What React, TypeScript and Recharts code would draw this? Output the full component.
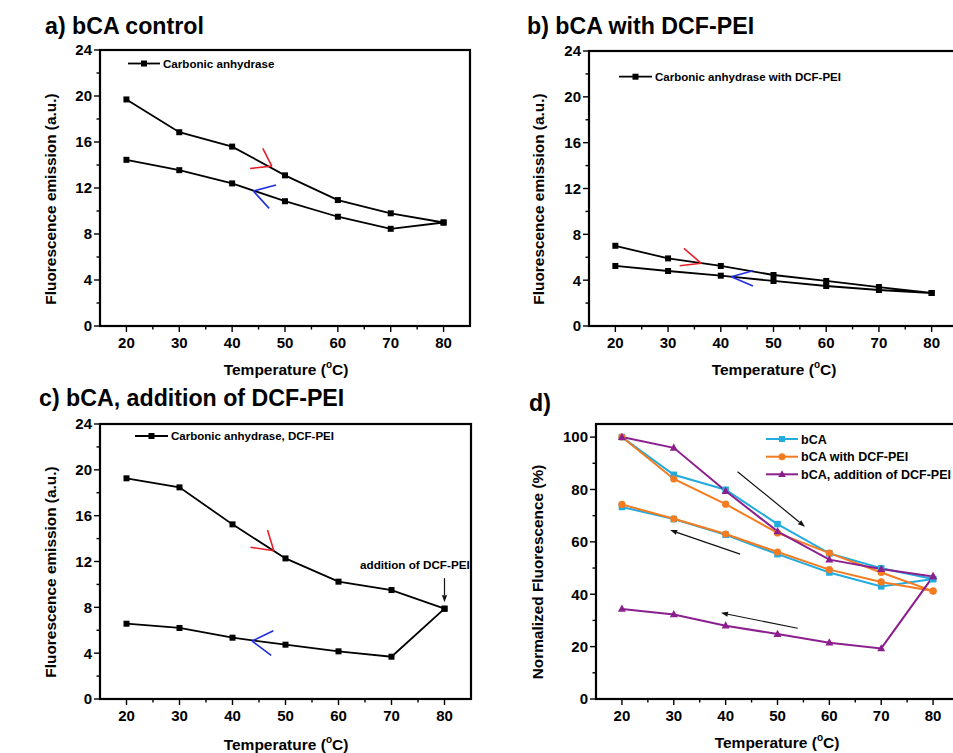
import React from 'react';
import { LineChart, Line, XAxis, YAxis, ReferenceLine } from 'recharts';

const FONT = '"Liberation Sans", Arial, Helvetica, sans-serif';

// ---------- data ----------
const temps = [20, 30, 40, 50, 60, 70, 80];
const xTicks = [20, 25, 30, 35, 40, 45, 50, 55, 60, 65, 70, 75, 80];
const emissionTicks = [0, 2, 4, 6, 8, 10, 12, 14, 16, 18, 20, 22, 24];
const percentTicks = [0, 10, 20, 30, 40, 50, 60, 70, 80, 90, 100];

// a) bCA control
const aHeating = [19.7, 16.85, 15.6, 13.1, 10.95, 9.8, 9.0];
const aCooling = [14.45, 13.55, 12.4, 10.85, 9.5, 8.45, 9.0];
// b) bCA with DCF-PEI
const bHeating = [7.0, 5.9, 5.24, 4.45, 3.93, 3.4, 2.88];
const bCooling = [5.24, 4.8, 4.39, 3.93, 3.49, 3.14, 2.88];
// c) bCA, addition of DCF-PEI
const cHeating = [19.26, 18.47, 15.24, 12.27, 10.24, 9.51, 7.88];
const cCooling = [6.57, 6.2, 5.35, 4.74, 4.16, 3.69, 7.88];
// d) normalized fluorescence (%)
const dBcaHeating = [100, 85.6, 79.9, 66.8, 55.6, 49.9, 45.8];
const dBcaCooling = [73.3, 68.7, 62.7, 55.3, 48.3, 43.0, 45.8];
const dDcfHeating = [100, 84.0, 74.4, 63.4, 55.7, 48.3, 41.2];
const dDcfCooling = [74.3, 68.8, 63.0, 56.1, 49.4, 44.7, 41.2];
const dAddHeating = [100, 95.9, 79.4, 64.0, 53.2, 49.6, 46.8];
const dAddCooling = [34.4, 32.3, 28.0, 24.8, 21.5, 19.3, 46.8];

const legendA = 'Carbonic anhydrase';
const legendB = 'Carbonic anhydrase with DCF-PEI';
const legendC = 'Carbonic anhydrase, DCF-PEI';
const legendD = ['bCA', 'bCA with DCF-PEI', 'bCA, addition of DCF-PEI'];

const CYAN = '#23ABDD';
const ORANGE = '#F47B20';
const PURPLE = '#8B1F8E';

function loop(heating: number[], cooling: number[]) {
  const up = temps.map((t, i) => ({ t, v: heating[i] }));
  const down = temps.map((t, i) => ({ t, v: cooling[i] })).reverse();
  return [...up, ...down];
}

// ---------- ticks ----------
const XTick = (props: any) => {
  const { x, y, payload } = props;
  const v = payload.value;
  const major = v % 10 === 0;
  return (
    <g>
      <line x1={x} y1={y} x2={x} y2={y + (major ? 6 : 3.5)} stroke="#000" strokeWidth={1.4} />
      {major && (
        <text x={x} y={y + 21.5} textAnchor="middle" fontSize={15} fontWeight="bold" fontFamily={FONT} fill="#000">
          {v}
        </text>
      )}
    </g>
  );
};

const makeYTick = (step: number) => (props: any) => {
  const { x, y, payload } = props;
  const v = payload.value;
  const major = v % step === 0;
  return (
    <g>
      <line x1={x} y1={y} x2={x - (major ? 6 : 3.5)} y2={y} stroke="#000" strokeWidth={1.4} />
      {major && (
        <text x={x - 8} y={y} dy="0.36em" textAnchor="end" fontSize={15} fontWeight="bold" fontFamily={FONT} fill="#000">
          {v}
        </text>
      )}
    </g>
  );
};

// ---------- markers ----------
const squareDot = (color: string, size: number) => (p: any) => {
  const { cx, cy } = p;
  if (cx == null || cy == null) return <g />;
  return <rect x={cx - size / 2} y={cy - size / 2} width={size} height={size} fill={color} stroke="none" />;
};
const circleDot = (color: string, r: number) => (p: any) => {
  const { cx, cy } = p;
  if (cx == null || cy == null) return <g />;
  return <circle cx={cx} cy={cy} r={r} fill={color} stroke="none" />;
};
const triDot = (color: string, s: number) => (p: any) => {
  const { cx, cy } = p;
  if (cx == null || cy == null) return <g />;
  const h = s * 0.9;
  return <polygon points={`${cx},${cy - h * 0.6} ${cx - s / 2},${cy + h * 0.4} ${cx + s / 2},${cy + h * 0.4}`} fill={color} stroke="none" />;
};

// ---------- arrows ----------
const ArrowShape = (p: any) => {
  const { x1, y1, x2, y2 } = p;
  const ang = Math.atan2(y2 - y1, x2 - x1);
  const L = 7;
  const W = 2.6;
  const c = Math.cos(ang);
  const s = Math.sin(ang);
  const bx = x2 - L * c;
  const by = y2 - L * s;
  return (
    <g>
      <line x1={x1} y1={y1} x2={bx} y2={by} stroke="#111" strokeWidth={1.2} />
      <polygon points={`${x2},${y2} ${bx + W * s},${by - W * c} ${bx - W * s},${by + W * c}`} fill="#111" />
    </g>
  );
};

const chevron = (apex: [number, number], e1: [number, number], e2: [number, number], color: string, key: string) => [
  <ReferenceLine
    key={key + '1'}
    segment={[{ x: apex[0], y: apex[1] }, { x: e1[0], y: e1[1] }]}
    stroke={color}
    strokeWidth={1.6}
    ifOverflow="visible"
  />,
  <ReferenceLine
    key={key + '2'}
    segment={[{ x: apex[0], y: apex[1] }, { x: e2[0], y: e2[1] }]}
    stroke={color}
    strokeWidth={1.6}
    ifOverflow="visible"
  />,
];

// ---------- panel builder ----------
type PanelProps = {
  left: number;
  top: number;
  width: number;
  height: number;
  margin: { top: number; right: number; bottom: number; left: number };
  yWidth: number;
  yMax: number;
  yTicks: number[];
  yStep: number;
  children: React.ReactNode;
};

const frameLine = { stroke: '#000', strokeWidth: 1.5 };

const Panel = ({ left, top, width, height, margin, yWidth, yMax, yTicks, yStep, children }: PanelProps) => (
  <div style={{ position: 'absolute', left, top }}>
    <LineChart width={width} height={height} margin={margin}>
      <XAxis
        type="number"
        dataKey="t"
        domain={[15, 85]}
        ticks={xTicks}
        interval={0}
        tickSize={0}
        tickMargin={0}
        tickLine={false}
        tick={XTick}
        axisLine={frameLine}
        height={30}
        allowDataOverflow
      />
      <YAxis
        type="number"
        dataKey="v"
        domain={[0, yMax]}
        ticks={yTicks}
        interval={0}
        tickSize={0}
        tickMargin={0}
        tickLine={false}
        tick={makeYTick(yStep)}
        axisLine={frameLine}
        width={yWidth}
        allowDataOverflow
      />
      {children}
    </LineChart>
  </div>
);

const blackLine = (data: { t: number; v: number }[], name: string) => (
  <Line
    key={name}
    data={data}
    dataKey="v"
    name={name}
    type="linear"
    stroke="#000"
    strokeWidth={1.8}
    dot={squareDot('#000', 6)}
    activeDot={false}
    isAnimationActive={false}
  />
);

// ---------- overlay helpers ----------
const TitleText = ({ x, y, text }: { x: number; y: number; text: string }) => (
  <text x={x} y={y} fontSize={23.2} fontWeight="bold" fontFamily={FONT} fill="#000">
    {text}
  </text>
);

const YTitle = ({ cx, cy, text }: { cx: number; cy: number; text: string }) => (
  <text
    x={cx}
    y={cy}
    dy="0.36em"
    textAnchor="middle"
    transform={`rotate(-90 ${cx} ${cy})`}
    fontSize={15.4}
    fontWeight="bold"
    fontFamily={FONT}
    fill="#000"
  >
    {text}
  </text>
);

const XTitle = ({ cx, y }: { cx: number; y: number }) => (
  <text x={cx} y={y} textAnchor="middle" fontSize={15.5} fontWeight="bold" fontFamily={FONT} fill="#000">
    Temperature (<tspan fontSize={10} dy={-7}>o</tspan>
    <tspan dy={7}>C)</tspan>
  </text>
);

// full plot box outline
const PlotBox = ({ left, right, top, bottom }: { left: number; right: number; top: number; bottom: number }) => (
  <rect x={left} y={top} width={right - left} height={bottom - top} fill="none" stroke="#000" strokeWidth={2.2} />
);

type Marker = 'square' | 'circle' | 'triangle';
const LegendRow = ({ x1, x2, y, label, color, marker, fontSize }: { x1: number; x2: number; y: number; label: string; color: string; marker: Marker; fontSize: number }) => {
  const mx = (x1 + x2) / 2;
  let m: React.ReactNode = null;
  if (marker === 'square') m = <rect x={mx - 3} y={y - 3} width={6} height={6} fill={color} />;
  if (marker === 'circle') m = <circle cx={mx} cy={y} r={3.5} fill={color} />;
  if (marker === 'triangle') m = <polygon points={`${mx},${y - 4} ${mx - 3.8},${y + 2.8} ${mx + 3.8},${y + 2.8}`} fill={color} />;
  return (
    <g>
      <line x1={x1} y1={y} x2={x2} y2={y} stroke={color} strokeWidth={color === '#000' ? 1.8 : 2} />
      {m}
      <text x={x2 + 3} y={y} dy="0.36em" fontSize={fontSize} fontWeight="bold" fontFamily={FONT} fill="#000">
        {label}
      </text>
    </g>
  );
};

export default function App() {
  const loopA = loop(aHeating, aCooling);
  const loopB = loop(bHeating, bCooling);
  const loopC = loop(cHeating, cCooling);
  const loopDBca = loop(dBcaHeating, dBcaCooling);
  const loopDDcf = loop(dDcfHeating, dDcfCooling);
  const loopDAdd = loop(dAddHeating, dAddCooling);

  return (
    <div style={{ position: 'absolute', left: 0, top: 0, width: 953, height: 753, overflow: 'hidden', background: '#fff' }}>
      {/* a */}
      <Panel left={0} top={0} width={480} height={380} margin={{ top: 50, right: 10, bottom: 24, left: 0 }} yWidth={100} yMax={24} yTicks={emissionTicks} yStep={4}>
        {blackLine(loopA, 'a')}
        {chevron([47.5, 13.9], [43.4, 13.7], [45.8, 15.45], '#E8202A', 'ar')}
        {chevron([44.0, 11.74], [48.3, 12.26], [47.0, 10.23], '#1F2FE0', 'ab')}
      </Panel>

      {/* b */}
      <Panel left={480} top={0} width={488} height={380} margin={{ top: 51, right: 10, bottom: 24, left: 0 }} yWidth={109} yMax={24} yTicks={emissionTicks} yStep={4}>
        {blackLine(loopB, 'b')}
        {chevron([36.3, 5.47], [32.2, 5.26], [33.0, 6.78], '#E8202A', 'br')}
        {chevron([42.0, 4.3], [46.1, 4.83], [46.1, 3.49], '#1F2FE0', 'bb')}
      </Panel>

      {/* c */}
      <Panel left={0} top={380} width={480} height={373} margin={{ top: 44, right: 9, bottom: 24, left: 0 }} yWidth={100} yMax={24} yTicks={emissionTicks} yStep={4}>
        {blackLine(loopC, 'c')}
        {chevron([47.8, 12.94], [43.4, 13.24], [46.6, 14.75], '#E8202A', 'cr')}
        {chevron([43.7, 5.06], [47.7, 5.96], [47.3, 3.81], '#1F2FE0', 'cb')}
        <ReferenceLine segment={[{ x: 80, y: 10.55 }, { x: 80, y: 8.45 }]} shape={ArrowShape} ifOverflow="visible" />
      </Panel>

      {/* d */}
      <Panel left={480} top={380} width={489} height={373} margin={{ top: 44, right: 10, bottom: 24, left: 0 }} yWidth={116} yMax={105} yTicks={percentTicks} yStep={20}>
        <Line data={loopDBca} dataKey="v" name={legendD[0]} stroke={CYAN} strokeWidth={2} dot={squareDot(CYAN, 6.5)} activeDot={false} isAnimationActive={false} />
        <Line data={loopDDcf} dataKey="v" name={legendD[1]} stroke={ORANGE} strokeWidth={2} dot={circleDot(ORANGE, 3.6)} activeDot={false} isAnimationActive={false} />
        <Line data={loopDAdd} dataKey="v" name={legendD[2]} stroke={PURPLE} strokeWidth={2} dot={triDot(PURPLE, 8)} activeDot={false} isAnimationActive={false} />
        <ReferenceLine segment={[{ x: 42.3, y: 86.8 }, { x: 55.3, y: 65.8 }]} shape={ArrowShape} ifOverflow="visible" />
        <ReferenceLine segment={[{ x: 42.8, y: 55.3 }, { x: 29.3, y: 64.5 }]} shape={ArrowShape} ifOverflow="visible" />
        <ReferenceLine segment={[{ x: 53.9, y: 27.0 }, { x: 39.1, y: 32.9 }]} shape={ArrowShape} ifOverflow="visible" />
      </Panel>

      {/* overlay: frames, titles, axis titles, legends */}
      <svg width={953} height={753} style={{ position: 'absolute', left: 0, top: 0, pointerEvents: 'none' }}>
        <PlotBox left={100} right={470} top={50} bottom={326} />
        <PlotBox left={589} right={958} top={51} bottom={326} />
        <PlotBox left={100} right={471} top={424} bottom={699} />
        <PlotBox left={596} right={959} top={424} bottom={699} />

        <TitleText x={45} y={34} text="a) bCA control" />
        <TitleText x={527} y={34} text="b) bCA with DCF-PEI" />
        <TitleText x={39} y={406} text="c) bCA, addition of DCF-PEI" />
        <TitleText x={529} y={411} text="d)" />

        <YTitle cx={50} cy={199} text="Fluorescence emission (a.u.)" />
        <YTitle cx={538} cy={199} text="Fluorescence emission (a.u.)" />
        <YTitle cx={50} cy={572} text="Fluorescence emission (a.u.)" />
        <YTitle cx={537} cy={572} text="Normalized Fluorescence (%)" />

        <XTitle cx={286} y={375} />
        <XTitle cx={774} y={375} />
        <XTitle cx={286} y={750} />
        <XTitle cx={777} y={748} />

        <LegendRow x1={128} x2={160} y={63.5} label={legendA} color="#000" marker="square" fontSize={11.6} />
        <LegendRow x1={619} x2={652} y={76.7} label={legendB} color="#000" marker="square" fontSize={11.5} />
        <LegendRow x1={135} x2={168} y={436} label={legendC} color="#000" marker="square" fontSize={11.5} />
        <LegendRow x1={766} x2={798} y={439} label={legendD[0]} color={CYAN} marker="square" fontSize={12.5} />
        <LegendRow x1={766} x2={798} y={456.7} label={legendD[1]} color={ORANGE} marker="circle" fontSize={12.5} />
        <LegendRow x1={766} x2={798} y={474.3} label={legendD[2]} color={PURPLE} marker="triangle" fontSize={12.5} />

        <text x={360} y={565} dy="0.36em" fontSize={11.7} fontWeight="bold" fontFamily={FONT} fill="#000">
          addition of DCF-PEI
        </text>
      </svg>
    </div>
  );
}
